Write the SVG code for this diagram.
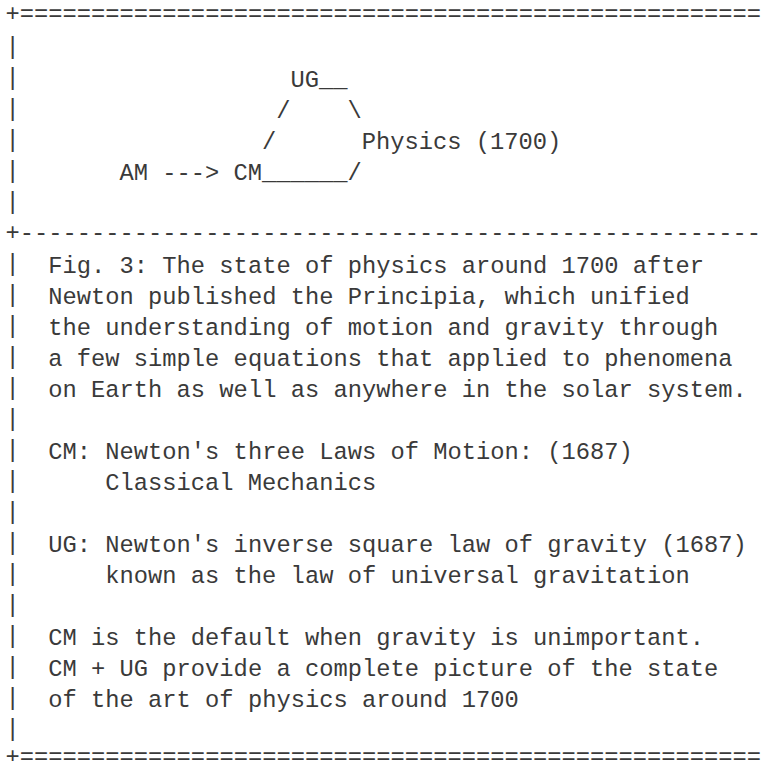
<svg xmlns="http://www.w3.org/2000/svg" width="762" height="761" viewBox="0 0 762 761" xml:space="preserve">
<style>
text { font-family: "Liberation Mono", "Courier New", monospace; font-size: 23.75px; fill: #3a3a3a; white-space: pre; }
</style>
<rect width="762" height="761" fill="#fff"/>
<g id="frame">
<text x="5.6" y="21.2">+====================================================</text>
<text x="5.6" y="53.5">|</text>
<text x="5.6" y="84.5">|</text>
<text x="5.6" y="115.5">|</text>
<text x="5.6" y="146.5">|</text>
<text x="5.6" y="177.5">|</text>
<text x="5.6" y="208.5">|</text>
<text x="5.6" y="239.8">+----------------------------------------------------</text>
<text x="5.6" y="270.5">|</text>
<text x="5.6" y="301.5">|</text>
<text x="5.6" y="332.5">|</text>
<text x="5.6" y="363.5">|</text>
<text x="5.6" y="394.5">|</text>
<text x="5.6" y="425.5">|</text>
<text x="5.6" y="456.5">|</text>
<text x="5.6" y="487.5">|</text>
<text x="5.6" y="518.5">|</text>
<text x="5.6" y="549.5">|</text>
<text x="5.6" y="580.5">|</text>
<text x="5.6" y="611.5">|</text>
<text x="5.6" y="642.5">|</text>
<text x="5.6" y="673.5">|</text>
<text x="5.6" y="704.5">|</text>
<text x="5.6" y="735.5">|</text>
<text x="5.6" y="764.4">+====================================================</text>
</g>
<g id="node-UG"><text x="290.6" y="86.5">UG</text></g>
<g id="node-Physics"><text x="361.85" y="148.5">Physics (1700)</text></g>
<g id="node-AM"><text x="119.6" y="179.5">AM</text></g>
<g id="node-CM"><text x="233.6" y="179.5">CM</text></g>
<g id="connectors">
<text x="319.1" y="86.5">__</text>
<text x="276.35" y="117.5">/    \</text>
<text x="262.1" y="148.5">/</text>
<text x="162.35" y="179.5">---&gt;</text>
<text x="262.1" y="179.5">______/</text>
</g>
<g id="caption">
<text x="48.35" y="272.5">Fig. 3: The state of physics around 1700 after</text>
<text x="48.35" y="303.5">Newton published the Principia, which unified</text>
<text x="48.35" y="334.5">the understanding of motion and gravity through</text>
<text x="48.35" y="365.5">a few simple equations that applied to phenomena</text>
<text x="48.35" y="396.5">on Earth as well as anywhere in the solar system.</text>
<text x="48.35" y="458.5">CM: Newton's three Laws of Motion: (1687)</text>
<text x="105.35" y="489.5">Classical Mechanics</text>
<text x="48.35" y="551.5">UG: Newton's inverse square law of gravity (1687)</text>
<text x="105.35" y="582.5">known as the law of universal gravitation</text>
<text x="48.35" y="644.5">CM is the default when gravity is unimportant.</text>
<text x="48.35" y="675.5">CM + UG provide a complete picture of the state</text>
<text x="48.35" y="706.5">of the art of physics around 1700</text>
</g>
</svg>
